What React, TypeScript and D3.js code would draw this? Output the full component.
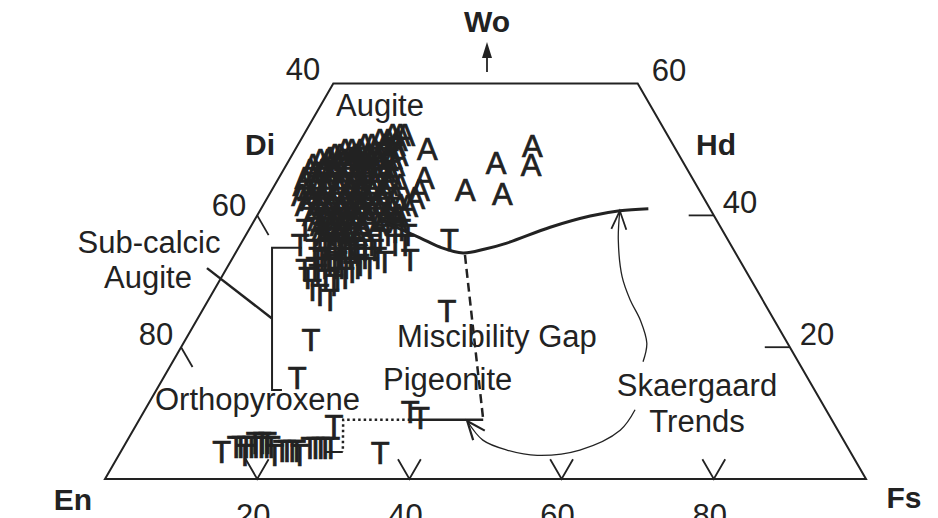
import React from 'react';
import * as d3 from 'd3';

// ---------- data (compositions as [Wo, Fs], En = 100 - Wo - Fs) ----------
const augite: [number, number][] = [
  [52.2, 11.7], [52.2, 12.7], [52.2, 13.3],
  [51.4, 10.4], [51.4, 11.5], [51.4, 12.7],
  [50.7, 8.8], [50.7, 9.7], [50.7, 11.4], [50.7, 12.8],
  [49.9, 6.6], [49.9, 7.5], [49.9, 8.6], [49.9, 10.5], [49.9, 12.5],
  [49.2, 5.6], [49.2, 6.3], [49.2, 8.3], [49.2, 10.0], [49.2, 11.5], [49.2, 13.9],
  [48.7, 5.2], [48.7, 8.1], [48.7, 10.0], [48.7, 11.5], [48.7, 13.4],
  [48.4, 4.1], [48.4, 5.1], [48.4, 7.3], [48.4, 9.3], [48.4, 10.9], [48.4, 13.0],
  [47.6, 3.5], [47.6, 5.1], [47.6, 6.8], [47.6, 8.4], [47.6, 10.4], [47.6, 12.3], [47.6, 14.3],
  [46.9, 3.5], [46.9, 5.1], [46.9, 6.8], [46.9, 8.5], [46.9, 9.8], [46.9, 11.4], [46.9, 13.4],
  [46.4, 4.4], [46.4, 6.1], [46.4, 7.9], [46.4, 9.7], [46.4, 11.0], [46.4, 12.5], [46.4, 14.3],
  [45.7, 3.4], [45.7, 5.1], [45.7, 6.7], [45.7, 8.3], [45.7, 10.0], [45.7, 11.6], [45.7, 13.0], [45.7, 14.9],
  [44.6, 3.7], [44.6, 5.3], [44.6, 6.6], [44.6, 8.3], [44.6, 9.9], [44.6, 11.5], [44.6, 13.2], [44.6, 14.9], [44.6, 16.5],
  [43.9, 4.7], [43.9, 6.0], [43.9, 7.3], [43.9, 8.9], [43.9, 10.2], [43.9, 11.5], [43.9, 13.1], [43.9, 14.8],
  [43.1, 4.3], [43.1, 5.6], [43.1, 7.0], [43.1, 8.7], [43.1, 10.0], [43.1, 11.3], [43.1, 12.6], [43.1, 14.6], [43.1, 16.6],
  [42.3, 5.8], [42.3, 7.1], [42.3, 8.6], [42.3, 10.4], [42.3, 12.0], [42.3, 13.4], [42.3, 15.4],
  [41.6, 5.5], [41.6, 7.2], [41.6, 8.8], [41.6, 10.3], [41.6, 11.7], [41.6, 13.0], [41.6, 14.7], [41.6, 16.7], [41.6, 18.0],
  [40.8, 7.2], [40.8, 8.9], [40.8, 10.5], [40.8, 11.8], [40.8, 13.1], [40.8, 14.7], [40.8, 15.7], [40.8, 17.4],
  [40.1, 7.2], [40.1, 8.9], [40.1, 10.2], [40.1, 11.5], [40.1, 12.8], [40.1, 14.5], [40.1, 16.8], [40.1, 18.5],
  [39.3, 8.3], [39.3, 9.7], [39.3, 11.0], [39.3, 12.3], [39.3, 13.6], [39.3, 14.9],
  [38.5, 9.0], [38.5, 10.3], [38.5, 11.6], [38.5, 12.9], [38.5, 14.5], [38.5, 16.6],
  [37.8, 9.6], [37.8, 10.9], [37.8, 12.2], [37.8, 13.6], [37.8, 14.9],
  [37.0, 10.4], [37.0, 12.1], [37.0, 13.4], [37.0, 14.7],
  [35.5, 12.5], [35.5, 13.8],
  [50.1, 17.3], [45.7, 19.1], [43.9, 19.4], [42.6, 19.4], [41.4, 19.1],
  [48.0, 27.4], [50.5, 30.9], [47.6, 32.2], [43.9, 25.4], [43.2, 30.6],
  [39.0, 19.0], [39.6, 17.0],
];

const lowCa: [number, number][] = [
  [36.3, 10.1], [35.5, 11.6], [34.7, 12.9], [35.1, 13.6], [34.4, 15.0], [34.0, 16.2],
  [34.7, 16.8], [35.5, 17.3], [36.3, 18.0], [37.0, 18.7], [37.5, 19.4], [37.8, 20.1],
  [37.0, 21.3], [33.2, 11.9], [32.5, 13.3], [32.9, 14.2], [32.0, 15.7], [31.4, 16.8],
  [32.5, 17.3], [31.0, 12.5], [30.2, 13.9], [29.4, 15.4], [31.7, 10.4], [28.7, 12.9],
  [27.9, 14.3], [27.2, 16.0], [32.9, 20.3], [33.2, 23.5], [37.8, 7.4], [35.5, 7.9],
  [34.7, 10.2], [34.7, 11.6], [34.7, 14.2], [34.7, 15.5], [34.7, 18.1],
  [33.5, 11.2], [33.5, 12.6], [33.5, 14.2], [33.5, 15.5], [33.5, 17.4], [33.5, 19.1],
  [32.0, 11.6], [32.0, 12.9], [32.0, 14.2], [32.0, 15.1], [32.0, 17.2], [32.0, 18.8],
  [30.5, 11.4], [30.5, 15.3], [30.5, 16.3],
  [35.5, 20.4], [35.5, 21.7],
  [36.3, 27.1], [25.5, 32.2], [21.1, 16.5], [15.3, 17.6], [10.2, 35.0], [9.3, 36.8],
  [8.0, 26.1], [3.9, 34.2],
  [4.1, 13.3],
  [4.9, 14.8], [4.9, 15.4], [4.9, 16.1], [4.9, 16.8], [4.9, 17.4], [4.9, 18.1], [4.9, 18.8], [4.9, 19.4],
  [5.5, 17.0], [5.5, 17.9], [5.5, 18.6],
  [4.2, 21.2], [4.2, 21.8], [4.2, 22.5], [4.2, 23.1],
  [4.7, 24.6], [4.7, 25.3], [4.7, 26.0], [4.7, 26.6], [4.7, 27.3],
  [3.6, 16.6], [3.6, 20.5], [3.6, 23.8],
];

// boundaries
const augiteLimit: [number, number][] = [
  [39.3, 16.5], [36.6, 23.1], [35.2, 26.4], [34.3, 29.9], [34.9, 32.5],
  [35.8, 34.9], [38.2, 39.4], [39.9, 43.8], [40.7, 47.3], [41.0, 50.9],
];
const gapDashed: [number, number][] = [[34.0, 30.3], [9.0, 45.2]];
const pigeoniteSolid: [number, number][] = [[9.0, 45.2], [9.0, 35.6]];
const tieDotted: [number, number][] = [[9.0, 35.6], [9.0, 26.8], [4.1, 29.2]];
const opxSolid: [number, number][] = [[4.1, 29.2], [4.1, 26.9]];
const bracket: [number, number][] = [[35.1, 8.3], [35.1, 4.4], [13.5, 15.2], [13.5, 16.5]];
const bracketLeader: [number, number][] = [[32.0, -2.6], [24.4, 9.7]];
const trendUpper: [number, number][] = [
  [17.8, 61.8], [20.6, 60.9], [24.1, 58.3], [27.2, 55.4], [30.7, 52.6], [36.3, 49.3], [40.7, 47.3],
];
const trendLower: [number, number][] = [
  [10.5, 64.4], [7.4, 64.0], [4.4, 60.2], [3.6, 55.0], [4.4, 50.6], [5.9, 46.7], [8.8, 43.2],
];

const bottomTicks = [20, 40, 60, 80];
const bottomTickLabels = ['20', '40', '60', '80'];
const leftTicks = [40, 20];
const leftTickLabels = ['60', '80'];
const rightTicks = [40, 20];
const rightTickLabels = ['40', '20'];
const topLabels = ['40', '60'];

// ---------- geometry ----------
const xS = d3.scaleLinear().domain([0, 100]).range([105, 866]);
const yS = d3.scaleLinear().domain([0, 100]).range([479, -180]);
const P = (wo: number, fs: number): [number, number] => [xS(fs + wo / 2), yS(wo)];

const INK = '#222';
const FONT = '"Liberation Sans", Arial, Helvetica, sans-serif';

function chevron(tip: [number, number], from: [number, number], len = 20, angDeg = 22) {
  const dx = from[0] - tip[0];
  const dy = from[1] - tip[1];
  const base = Math.atan2(dy, dx);
  const a = (angDeg * Math.PI) / 180;
  const p1 = [tip[0] + len * Math.cos(base + a), tip[1] + len * Math.sin(base + a)];
  const p2 = [tip[0] + len * Math.cos(base - a), tip[1] + len * Math.sin(base - a)];
  return `M${p1[0]},${p1[1]}L${tip[0]},${tip[1]}L${p2[0]},${p2[1]}`;
}

export default function App() {
  const straight = d3.line<[number, number]>().x((d) => P(d[0], d[1])[0]).y((d) => P(d[0], d[1])[1]);
  const smooth = d3
    .line<[number, number]>()
    .x((d) => P(d[0], d[1])[0])
    .y((d) => P(d[0], d[1])[1])
    .curve(d3.curveCatmullRom.alpha(0.5));

  const frame = straight([[0, 0], [0, 100], [60, 40], [60, 0]] as [number, number][]) + 'Z';

  const tickLines: string[] = [];
  bottomTicks.forEach((f) => {
    tickLines.push(straight([[3, f - 3], [0, f], [3, f]] as [number, number][]) as string);
  });
  leftTicks.forEach((w) => {
    tickLines.push(straight([[w, 0], [w - 3, 3]] as [number, number][]) as string);
  });
  rightTicks.forEach((w) => {
    tickLines.push(straight([[w, 100 - w], [w, 100 - w - 3.3]] as [number, number][]) as string);
  });

  const upTip = P(trendUpper[trendUpper.length - 1][0], trendUpper[trendUpper.length - 1][1]);
  const upFrom = P(trendUpper[trendUpper.length - 2][0], trendUpper[trendUpper.length - 2][1]);
  const loTip = P(trendLower[trendLower.length - 1][0], trendLower[trendLower.length - 1][1]);
  const loFrom = P(trendLower[trendLower.length - 2][0], trendLower[trendLower.length - 2][1]);

  const label = (txt: string, x: number, y: number, anchor = 'middle', bold = false, size = 31) => (
    <text
      key={txt + x + '_' + y}
      x={x}
      y={y}
      textAnchor={anchor as any}
      fontSize={size}
      fontWeight={bold ? 'bold' : 'normal'}
      fontFamily={FONT}
      fill={INK}
    >
      {txt}
    </text>
  );

  return (
    <svg
      width={938}
      height={518}
      style={{ position: 'absolute', left: 0, top: 0, background: '#fff' }}
    >
      <rect x={0} y={0} width={938} height={518} fill="#fff" />
      {/* frame */}
      <path d={frame} fill="none" stroke={INK} strokeWidth={2} strokeLinejoin="miter" />
      {tickLines.map((d, i) => (
        <path key={'t' + i} d={d} fill="none" stroke={INK} strokeWidth={1.8} />
      ))}

      {/* markers */}
      <g fontFamily={FONT} fontSize={31} fill={INK} textAnchor="middle" stroke={INK} strokeWidth={0.7}>
        {lowCa.map((d, i) => {
          const [x, y] = P(d[0], d[1]);
          return (
            <text key={'T' + i} x={x} y={y + 11}>
              T
            </text>
          );
        })}
        {augite.map((d, i) => {
          const [x, y] = P(d[0], d[1]);
          return (
            <text key={'A' + i} x={x} y={y + 11}>
              A
            </text>
          );
        })}
      </g>

      {/* boundaries */}
      <path d={smooth(augiteLimit) as string} fill="none" stroke={INK} strokeWidth={3} />
      <path d={straight(gapDashed) as string} fill="none" stroke={INK} strokeWidth={2.5} strokeDasharray="9,5" />
      <path d={straight(pigeoniteSolid) as string} fill="none" stroke={INK} strokeWidth={2.5} />
      <path d={straight(tieDotted) as string} fill="none" stroke={INK} strokeWidth={2.5} strokeDasharray="2.5,3" />
      <path d={straight(opxSolid) as string} fill="none" stroke={INK} strokeWidth={2} />
      <path d={straight(bracket) as string} fill="none" stroke={INK} strokeWidth={2} />
      <path d={straight(bracketLeader) as string} fill="none" stroke={INK} strokeWidth={2.5} />

      {/* Skaergaard trend arrows */}
      <path d={smooth(trendUpper) as string} fill="none" stroke={INK} strokeWidth={1.3} />
      <path d={chevron(upTip, upFrom)} fill="none" stroke={INK} strokeWidth={1.8} />
      <path d={smooth(trendLower) as string} fill="none" stroke={INK} strokeWidth={1.3} />
      <path d={chevron(loTip, loFrom)} fill="none" stroke={INK} strokeWidth={2.2} />

      {/* Wo arrow */}
      <line x1={487} y1={72} x2={487} y2={52} stroke={INK} strokeWidth={1.8} />
      <path d="M482,58 L487,42 L492,58 Z" fill={INK} />

      {/* labels */}
      {label('Wo', 487, 32, 'middle', true, 30)}
      {label(topLabels[0], 303, 80)}
      {label(topLabels[1], 669, 81)}
      {label('Di', 260, 155, 'middle', true, 30)}
      {label('Hd', 716, 155, 'middle', true, 30)}
      {label('Augite', 336, 116, 'start')}
      {label(leftTickLabels[0], 229, 216)}
      {label(leftTickLabels[1], 156, 345)}
      {label(rightTickLabels[0], 740, 213)}
      {label(rightTickLabels[1], 817, 345)}
      {label('Sub-calcic', 149, 253)}
      {label('Augite', 148, 288)}
      {label('Orthopyroxene', 155, 410, 'start')}
      {label('Pigeonite', 383, 390, 'start')}
      {label('Miscibility Gap', 397, 347, 'start')}
      {label('Skaergaard', 697, 396)}
      {label('Trends', 697, 432)}
      {label('En', 73, 510, 'middle', true, 30)}
      {label('Fs', 904, 508, 'middle', true, 30)}
      {bottomTicks.map((f, i) => label(bottomTickLabels[i], xS(f) - 4, 526))}
    </svg>
  );
}
